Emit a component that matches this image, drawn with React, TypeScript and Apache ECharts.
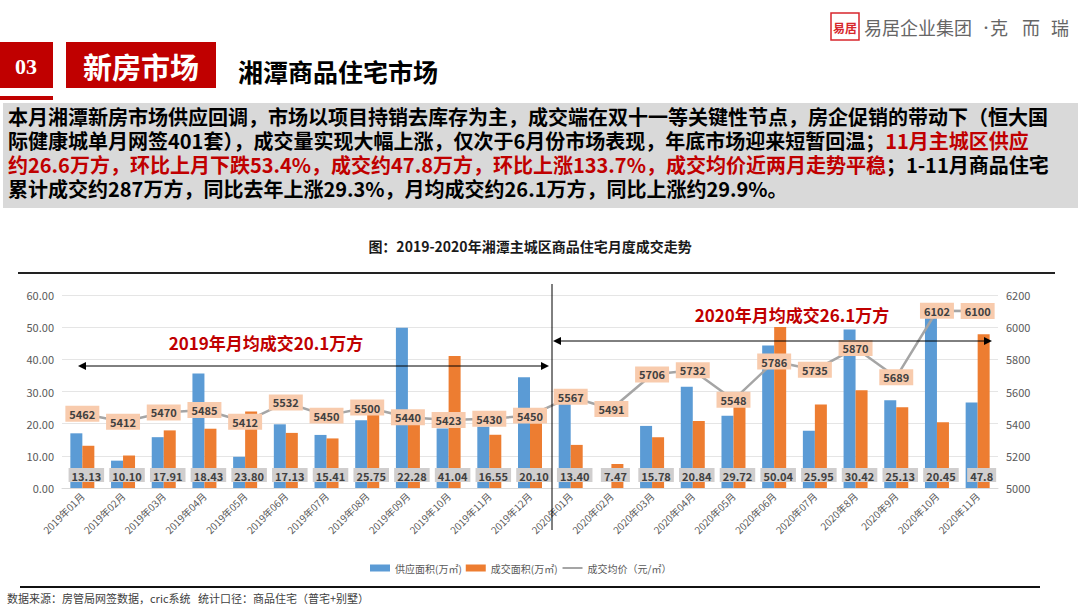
import React, { useEffect, useRef } from "react";
import * as echarts from "echarts";

const months = [
  "2019年01月", "2019年02月", "2019年03月", "2019年04月", "2019年05月", "2019年06月",
  "2019年07月", "2019年08月", "2019年09月", "2019年10月", "2019年11月", "2019年12月",
  "2020年01月", "2020年02月", "2020年03月", "2020年04月", "2020年05月", "2020年06月",
  "2020年07月", "2020年8月", "2020年9月", "2020年10月", "2020年11月",
];
const supplyArea = [17.0, 8.5, 15.8, 35.6, 9.7, 19.8, 16.5, 21.1, 49.8, 18.5, 19.1, 34.4,
  27.0, 0, 19.3, 31.5, 22.5, 44.3, 17.8, 49.3, 27.3, 57.1, 26.6];
const dealArea = ["13.13", "10.10", "17.91", "18.43", "23.80", "17.13", "15.41", "25.75", "22.28",
  "41.04", "16.55", "20.10", "13.40", "7.47", "15.78", "20.84", "29.72", "50.04", "25.95",
  "30.42", "25.13", "20.45", "47.8"];
const avgPrice = [5462, 5412, 5470, 5485, 5412, 5532, 5450, 5500, 5440, 5423, 5430, 5450,
  5567, 5491, 5706, 5732, 5548, 5786, 5735, 5870, 5689, 6102, 6100];
const seriesNames = ["供应面积(万㎡)", "成交面积(万㎡)", "成交均价（元/㎡）"];

const FONT = "'Noto Sans CJK SC', 'Noto Sans', sans-serif";

const paraLines: { text: string; red?: boolean }[][] = [
  [{ text: "本月湘潭新房市场供应回调，市场以项目持销去库存为主，成交端在双十一等关键性节点，房企促销的带动下（恒大国" }],
  [{ text: "际健康城单月网签401套），成交量实现大幅上涨，仅次于6月份市场表现，年底市场迎来短暂回温；" }, { text: "11月主城区供应", red: true }],
  [{ text: "约26.6万方，环比上月下跌53.4%，成交约47.8万方，环比上涨133.7%，成交均价近两月走势平稳", red: true }, { text: "；1-11月商品住宅" }],
  [{ text: "累计成交约287万方，同比去年上涨29.3%，月均成交约26.1万方，同比上涨约29.9%。" }],
];

function arrow(x1: number, x2: number, y: number) {
  return [
    { type: "line", z: 100, shape: { x1: x1 + 6, y1: y, x2: x2 - 6, y2: y }, style: { stroke: "#000", lineWidth: 1 } },
    { type: "polygon", z: 100, shape: { points: [[x1, y], [x1 + 8, y - 4], [x1 + 8, y + 4]] }, style: { fill: "#000" } },
    { type: "polygon", z: 100, shape: { points: [[x2, y], [x2 - 8, y - 4], [x2 - 8, y + 4]] }, style: { fill: "#000" } },
  ];
}

export default function App() {
  const ref = useRef<HTMLDivElement>(null);
  useEffect(() => {
    document.body.style.margin = "0";
    const chart = echarts.init(ref.current!, null, { renderer: "svg" });

    const paraText = paraLines
      .map((line) => line.map((s) => `{${s.red ? "r" : "b"}|${s.text}}`).join(""))
      .join("\n");

    const option: any = {
      animation: false,
      textStyle: { fontFamily: FONT },
      grid: { left: 62, right: 82, top: 295, bottom: 120, containLabel: false },
      legend: {
        left: 365,
        top: 558,
        itemWidth: 20,
        itemHeight: 7,
        itemGap: 4,
        textStyle: { fontSize: 10, color: "#595959", fontFamily: FONT },
        data: [
          { name: seriesNames[0], icon: "rect" },
          { name: seriesNames[1], icon: "rect" },
          { name: seriesNames[2], itemStyle: { opacity: 0 } },
        ],
      },
      xAxis: {
        type: "category",
        data: months,
        axisLine: { lineStyle: { color: "#D9D9D9" } },
        axisTick: { show: false },
        axisLabel: { interval: 0, rotate: 45, fontSize: 10, color: "#595959", margin: 6 },
      },
      yAxis: [
        {
          type: "value",
          min: 0,
          max: 60,
          interval: 10,
          axisLine: { show: false },
          axisTick: { show: false },
          splitLine: { lineStyle: { color: "#E5E5E5" } },
          axisLabel: { formatter: (v: number) => v.toFixed(2), fontSize: 11, color: "#595959", margin: 8 },
        },
        {
          type: "value",
          min: 5000,
          max: 6200,
          interval: 200,
          axisLine: { show: false },
          axisTick: { show: false },
          splitLine: { show: false },
          axisLabel: { formatter: (v: number) => String(v), fontSize: 11, color: "#595959", margin: 8 },
        },
      ],
      series: [
        {
          name: seriesNames[0],
          type: "bar",
          data: supplyArea,
          barWidth: 12,
          barGap: "0%",
          itemStyle: { color: "#5B9BD5" },
        },
        {
          name: seriesNames[1],
          type: "bar",
          data: dealArea,
          barWidth: 12,
          itemStyle: { color: "#ED7D31" },
          label: {
            show: true,
            position: "insideBottom",
            distance: 6,
            formatter: (p: any) => dealArea[p.dataIndex],
            backgroundColor: "#D0CECE",
            padding: [2, 3, 1, 3],
            fontSize: 11,
            fontWeight: "bold",
            color: "#404040",
            offset: [-2, 0],
          },
        },
        {
          name: seriesNames[2],
          type: "line",
          yAxisIndex: 1,
          data: avgPrice,
          symbol: "circle",
          symbolSize: 1,
          itemStyle: { color: "#A5A5A5" },
          lineStyle: { color: "#A5A5A5", width: 2.5 },
          z: 5,
          label: {
            show: true,
            position: "inside",
            backgroundColor: "#F8CBAD",
            padding: [3, 4, 2, 4],
            fontSize: 11,
            fontWeight: "bold",
            color: "#404040",
          },
        },
      ],
      graphic: [
        // header
        { type: "rect", shape: { x: 0, y: 42, width: 53, height: 46 }, style: { fill: "#C00000" } },
        { type: "rect", shape: { x: 0, y: 96, width: 53, height: 4 }, style: { fill: "#C00000" } },
        { type: "text", x: 26, y: 66, style: { text: "03", font: "bold 22px 'Liberation Serif', serif", fill: "#fff", align: "center", verticalAlign: "middle" } },
        { type: "rect", shape: { x: 66, y: 42, width: 150, height: 46 }, style: { fill: "#C00000" } },
        { type: "text", x: 141, y: 66, style: { text: "新房市场", font: `bold 29px ${FONT}`, fill: "#fff", align: "center", verticalAlign: "middle" } },
        { type: "text", x: 238, y: 71, style: { text: "湘潭商品住宅市场", font: `bold 25px ${FONT}`, fill: "#000", verticalAlign: "middle" } },
        // logo
        { type: "rect", shape: { x: 831, y: 13, width: 28, height: 27 }, style: { fill: "#fff", stroke: "#D7262C", lineWidth: 1.5 } },
        { type: "text", x: 845, y: 27, style: { text: "易居", font: `bold 12px ${FONT}`, fill: "#D7262C", align: "center", verticalAlign: "middle" } },
        { type: "text", x: 864, y: 27, style: { text: "易居企业集团", font: `18px ${FONT}`, fill: "#666", verticalAlign: "middle" } },
        { type: "text", x: 980, y: 27, style: { text: "•", font: `12px ${FONT}`, fill: "#666", verticalAlign: "middle" } },
        { type: "text", x: 990, y: 27, style: { text: "克", font: `18px ${FONT}`, fill: "#666", verticalAlign: "middle" } },
        { type: "text", x: 1022, y: 27, style: { text: "而", font: `18px ${FONT}`, fill: "#666", verticalAlign: "middle" } },
        { type: "text", x: 1051, y: 27, style: { text: "瑞", font: `18px ${FONT}`, fill: "#666", verticalAlign: "middle" } },
        // paragraph box
        { type: "rect", z: 90, shape: { x: 3, y: 103, width: 1075, height: 105 }, style: { fill: "#D9D9D9" } },
        {
          type: "text",
          z: 100,
          x: 8,
          y: 104,
          style: {
            text: paraText,
            font: `bold 20px ${FONT}`,
            lineHeight: 24,
            rich: {
              b: { fontSize: 20, fontWeight: "bold", fontFamily: FONT, fill: "#000", lineHeight: 24 },
              r: { fontSize: 20, fontWeight: "bold", fontFamily: FONT, fill: "#C00000", lineHeight: 24 },
            },
          },
        },
        // frame
        { type: "line", shape: { x1: 18, y1: 273, x2: 1055, y2: 273 }, style: { stroke: "#222", lineWidth: 2 } },
        { type: "line", shape: { x1: 20, y1: 587, x2: 1040, y2: 587 }, style: { stroke: "#111", lineWidth: 2 } },
        { type: "text", x: 530, y: 246, style: { text: "图：2019-2020年湘潭主城区商品住宅月度成交走势", font: `bold 14px ${FONT}`, fill: "#1a1a1a", align: "center", verticalAlign: "middle" } },
        { type: "text", x: 7, y: 598, style: { text: "数据来源：房管局网签数据，cric系统   统计口径：商品住宅（普宅+别墅）", font: `11px ${FONT}`, fill: "#404040", verticalAlign: "middle" } },
        // annotations
        { type: "line", z: 100, shape: { x1: 552, y1: 284, x2: 552, y2: 530 }, style: { stroke: "#000", lineWidth: 1 } },
        ...arrow(78, 549, 366),
        ...arrow(553, 992, 341),
        { type: "text", z: 100, x: 266, y: 342, style: { text: "2019年月均成交20.1万方", font: `bold 17px ${FONT}`, fill: "#C00000", align: "center", verticalAlign: "middle" } },
        { type: "text", z: 100, x: 792, y: 314, style: { text: "2020年月均成交26.1万方", font: `bold 17px ${FONT}`, fill: "#C00000", align: "center", verticalAlign: "middle" } },
      ],
    };
    chart.setOption(option);
    return () => chart.dispose();
  }, []);
  return <div ref={ref} style={{ width: 1080, height: 608 }} />;
}
